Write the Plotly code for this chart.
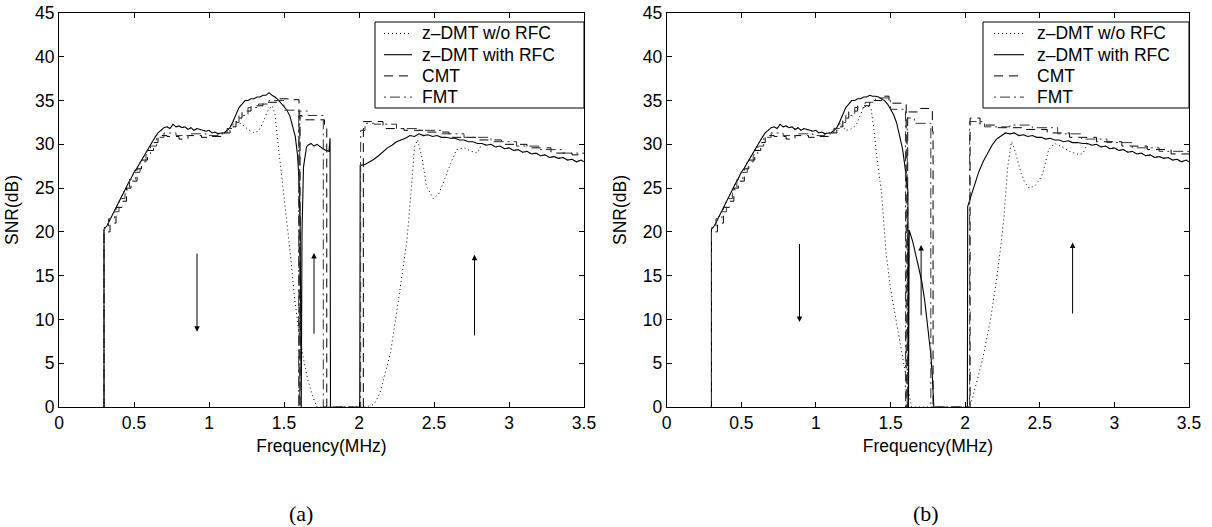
import plotly.graph_objects as go

W, H = 1212, 527

# ---------------- data ----------------
# common rising part shared by the z-DMT curves (MHz, dB)
COMMON_F = [0.30, 0.30, 0.32, 0.34, 0.36, 0.38, 0.40, 0.42, 0.44, 0.46, 0.48, 0.50, 0.52, 0.54,
            0.56, 0.58, 0.60, 0.62, 0.64, 0.66, 0.68, 0.70, 0.72, 0.74, 0.76, 0.78, 0.80, 0.82,
            0.84, 0.86, 0.88, 0.90, 0.92, 0.94, 0.96, 0.98, 1.00, 1.02, 1.04, 1.06, 1.08, 1.10,
            1.12, 1.14, 1.16]
COMMON_V = [0.0, 20.3, 20.7, 21.4, 22.1, 22.8, 23.5, 24.1, 24.8, 25.5, 26.1, 26.8, 27.3, 27.9,
            28.5, 29.0, 29.6, 30.2, 30.8, 31.3, 31.6, 31.9, 32.0, 31.8, 32.3, 32.0, 32.1, 31.9,
            32.0, 31.7, 31.9, 31.6, 31.8, 31.7, 31.6, 31.5, 31.6, 31.3, 31.4, 31.2, 31.3, 31.3,
            31.6, 31.9, 32.6]

# right-hand tail shared by the z-DMT curves
TAIL_F = [2.82, 2.85, 2.88, 2.91, 2.94, 2.97, 3.00, 3.03, 3.06, 3.09, 3.12, 3.15, 3.18, 3.21,
          3.24, 3.27, 3.30, 3.33, 3.36, 3.39, 3.42, 3.45, 3.48, 3.50]
TAIL_V = [30.1, 29.9, 30.0, 29.7, 29.8, 29.5, 29.6, 29.3, 29.4, 29.1, 29.2, 28.9, 29.0, 28.7,
          28.8, 28.5, 28.6, 28.4, 28.5, 28.2, 28.3, 28.0, 28.2, 28.0]

# (a) z-DMT with RFC
A_RFC_F = [1.18, 1.20, 1.22, 1.24, 1.26, 1.28, 1.30, 1.32, 1.34, 1.36, 1.38, 1.40, 1.42, 1.44,
           1.46, 1.48, 1.50, 1.52, 1.54, 1.56, 1.575, 1.59, 1.60, 1.607, 1.615, 1.62, 1.63, 1.65,
           1.66, 1.68, 1.70, 1.72, 1.74, 1.76, 1.78, 1.80, 1.807, 1.81, None,
           2.005, 2.008, 2.04, 2.07, 2.10, 2.13, 2.16, 2.19, 2.22, 2.25, 2.28, 2.31, 2.34, 2.37,
           2.40, 2.43, 2.46, 2.49, 2.52, 2.55, 2.58, 2.61, 2.64, 2.67, 2.70, 2.73, 2.76, 2.79]
A_RFC_V = [33.4, 34.2, 34.6, 35.0, 35.0, 35.2, 35.2, 35.4, 35.4, 35.6, 35.6, 35.9, 35.6, 35.4,
           35.1, 34.7, 34.4, 33.9, 33.2, 32.0, 30.9, 28.8, 26.0, 22.0, 0.0, 20.0, 27.4, 29.7,
           29.9, 30.1, 29.8, 30.0, 29.7, 29.5, 29.3, 29.2, 30.7, 0.0, None,
           0.0, 27.6, 27.7, 28.0, 28.3, 28.7, 29.2, 29.6, 29.9, 30.3, 30.5, 30.7, 31.0, 30.9,
           31.2, 31.0, 31.1, 30.9, 31.0, 30.8, 30.8, 30.7, 30.7, 30.5, 30.5, 30.3, 30.3, 30.1]

# (a) z-DMT w/o RFC
A_NO_F = [1.18, 1.22, 1.26, 1.30, 1.33, 1.36, 1.39, 1.42, 1.44, 1.46, 1.485, 1.52, 1.54, 1.57,
          1.60, 1.63, 1.66, 1.70, 1.72, 2.05, 2.10, 2.14, 2.21, 2.27, 2.32, 2.35, 2.37, 2.39,
          2.42, 2.45, 2.495, 2.53, 2.56, 2.61, 2.65, 2.70, 2.75, 2.79]
A_NO_V = [32.6, 32.3, 31.7, 31.3, 31.5, 32.5, 33.8, 34.4, 33.5, 30.1, 26.3, 21.7, 17.9, 12.5,
          8.5, 5.5, 3.0, 0.8, 0.0, 0.0, 0.3, 1.6, 6.2, 13.0, 19.1, 25.2, 29.7, 30.5,
          28.5, 25.2, 23.8, 24.3, 25.5, 27.8, 29.4, 29.6, 29.2, 29.0]

# (a) CMT (staircase)
A_CMT_F = [0.295, 0.30, 0.34, 0.38, 0.42, 0.45, 0.48, 0.52, 0.55, 0.59, 0.63, 0.66, 0.72, 0.80,
           0.86, 0.95, 1.02, 1.10, 1.14, 1.18, 1.22, 1.28, 1.36, 1.45, 1.54, 1.60, 1.607, 1.62,
           1.77, 1.785, 2.029, 2.16, 2.30, 2.45, 2.60, 2.78, 2.95, 3.12, 3.28, 3.42, 3.50]
A_CMT_V = [0.0, 20.0, 21.0, 22.8, 23.5, 25.0, 25.8, 27.2, 28.2, 29.3, 30.2, 31.0, 30.9, 30.6,
           31.0, 30.8, 30.9, 31.3, 32.0, 33.0, 33.8, 34.4, 34.8, 35.2, 35.1, 0.0, 33.3, 32.8,
           32.0, 0.0, 32.6, 31.8, 31.6, 31.4, 30.8, 30.5, 30.0, 29.6, 29.0, 28.8, 28.8]

# (a) FMT (staircase)
A_FMT_F = [0.295, 0.30, 0.33, 0.37, 0.40, 0.44, 0.47, 0.51, 0.54, 0.58, 0.61, 0.65, 0.70, 0.78,
           0.88, 0.98, 1.06, 1.12, 1.16, 1.20, 1.26, 1.33, 1.40, 1.50, 1.598, 1.605, 1.66, 1.762,
           2.011, 2.04, 2.10, 2.25, 2.40, 2.55, 2.70, 2.88, 3.05, 3.20, 3.36, 3.50]
A_FMT_V = [0.0, 20.5, 21.5, 22.3, 23.8, 24.8, 26.0, 26.8, 28.0, 28.8, 29.8, 30.8, 31.3, 31.0,
           31.2, 31.0, 31.2, 31.8, 32.5, 33.3, 34.2, 34.6, 35.0, 33.9, 0.0, 33.8, 33.3, 0.0,
           31.6, 32.4, 32.3, 31.8, 31.6, 31.2, 30.8, 30.3, 29.8, 29.4, 29.0, 28.9]

# (b) z-DMT with RFC
B_RFC_F = [1.18, 1.20, 1.22, 1.24, 1.26, 1.28, 1.30, 1.32, 1.34, 1.36, 1.38, 1.40, 1.42, 1.44,
           1.46, 1.48, 1.50, 1.52, 1.54, 1.56, 1.58, 1.594, 1.605, 1.616, 1.62, 1.625, 1.65, 1.67,
           1.69, 1.71, 1.73, 1.75, 1.77, 1.78, 1.79, None,
           2.015, 2.017, 2.03, 2.06, 2.09, 2.12, 2.15, 2.18, 2.21, 2.24, 2.27, 2.30, 2.33, 2.36,
           2.39, 2.42, 2.45, 2.48, 2.51, 2.54, 2.57, 2.60, 2.63, 2.66, 2.69, 2.72, 2.75, 2.79]
B_RFC_V = [33.4, 34.2, 34.6, 35.0, 35.0, 35.2, 35.2, 35.4, 35.4, 35.6, 35.5, 35.5, 35.4, 35.2,
           35.0, 34.6, 34.0, 33.4, 32.5, 30.9, 29.5, 27.8, 26.2, 24.8, 0.0, 20.2, 18.8, 17.3,
           16.1, 14.3, 12.0, 9.3, 6.0, 3.5, 0.0, None,
           0.0, 22.9, 23.6, 25.2, 26.8, 28.0, 29.0, 29.9, 30.6, 31.0, 31.3, 31.2, 31.3, 31.0,
           31.1, 30.9, 31.0, 30.8, 30.8, 30.6, 30.7, 30.5, 30.5, 30.3, 30.4, 30.2, 30.2, 30.1]

# (b) z-DMT w/o RFC
B_NO_F = [1.18, 1.20, 1.23, 1.27, 1.30, 1.32, 1.35, 1.37, 1.39, 1.405, 1.44, 1.47, 1.50, 1.53,
          1.56, 1.59, 1.62, 1.64, 2.02, 2.04, 2.08, 2.12, 2.17, 2.21, 2.24, 2.26, 2.285, 2.31,
          2.33, 2.355, 2.375, 2.40, 2.43, 2.47, 2.50, 2.52, 2.56, 2.60, 2.65, 2.70, 2.765, 2.79]
B_NO_V = [32.0, 31.6, 31.7, 32.2, 33.5, 34.3, 34.4, 34.0, 31.5, 29.0, 24.4, 17.6, 13.5, 10.5,
          8.0, 4.5, 1.5, 0.0, 0.0, 0.5, 3.0, 5.7, 10.0, 14.5, 18.5, 21.7, 27.4, 30.3,
          29.5, 28.0, 26.7, 25.6, 25.0, 25.3, 26.0, 26.7, 29.4, 30.1, 29.7, 29.2, 28.8, 29.0]

# (b) CMT (staircase)
B_CMT_F = [0.295, 0.30, 0.34, 0.38, 0.42, 0.45, 0.48, 0.52, 0.55, 0.59, 0.63, 0.66, 0.72, 0.80,
           0.86, 0.95, 1.02, 1.10, 1.14, 1.18, 1.22, 1.28, 1.36, 1.44, 1.49, 1.605, 1.615, 1.70,
           1.78, 1.785, 2.033, 2.10, 2.22, 2.40, 2.55, 2.70, 2.88, 3.05, 3.22, 3.38, 3.50]
B_CMT_V = [0.0, 20.0, 21.0, 22.8, 23.5, 25.0, 25.8, 27.2, 28.2, 29.3, 30.2, 31.0, 30.9, 30.6,
           31.0, 30.8, 30.9, 31.3, 32.0, 33.0, 33.8, 34.4, 35.0, 35.5, 34.7, 0.0, 33.7, 34.1,
           31.5, 0.0, 33.0, 32.2, 31.9, 31.7, 31.3, 30.8, 30.3, 29.8, 29.4, 28.9, 28.9]

# (b) FMT (staircase)
B_FMT_F = [0.295, 0.30, 0.33, 0.37, 0.40, 0.44, 0.47, 0.51, 0.54, 0.58, 0.61, 0.65, 0.70, 0.78,
           0.88, 0.98, 1.06, 1.12, 1.16, 1.20, 1.26, 1.33, 1.40, 1.50, 1.60, 1.612, 1.66,
           1.77, 2.03, 2.13, 2.30, 2.45, 2.62, 2.78, 2.95, 3.12, 3.30, 3.50]
B_FMT_V = [0.0, 20.5, 21.5, 22.3, 23.8, 24.8, 26.0, 26.8, 28.0, 28.8, 29.8, 30.8, 31.3, 31.0,
           31.2, 31.0, 31.2, 31.8, 32.5, 33.3, 34.2, 34.8, 35.3, 34.0, 0.0, 33.0, 32.4,
           0.0, 32.6, 32.0, 32.2, 31.9, 31.2, 30.6, 30.2, 29.6, 29.2, 29.0]

# arrows: (x, y_tail, y_head)
A_ARROWS = [(0.92, 17.7, 8.6), (1.70, 8.2, 17.6), (2.77, 8.0, 17.4)]
B_ARROWS = [(0.89, 18.8, 9.7), (1.705, 10.3, 18.5), (2.72, 10.5, 18.8)]

X_TICKS = [0, 0.5, 1, 1.5, 2, 2.5, 3, 3.5]
X_TICK_TEXT = ["0", "0.5", "1", "1.5", "2", "2.5", "3", "3.5"]
Y_TICKS = [0, 5, 10, 15, 20, 25, 30, 35, 40, 45]

NAMES = ["z\u2013DMT w/o RFC", "z\u2013DMT with RFC", "CMT", "FMT"]
SUB_LABELS = ["(a)", "(b)"]

# ---------------- styling ----------------
FONT = "Liberation Sans, Arial, sans-serif"
FS = 17.5
STYLES = [dict(color="black", width=1, dash="1px,3px"),
          dict(color="black", width=1.1),
          dict(color="black", width=1, dash="9px,6px"),
          dict(color="#333", width=1, dash="2px,4px,10px,4px")]

# plot area in page pixels: x 59..1189, y 13..407
AX_L, AX_R, AX_T, AX_B = 59, 1189, 13, 407
px = lambda v: (v - AX_L) / (AX_R - AX_L)
py = lambda v: (AX_B - v) / (AX_B - AX_T)

fig = go.Figure()


def add_panel(xa, ya, no_f, no_v, rfc_f, rfc_v, cmt_f, cmt_v, fmt_f, fmt_v):
    series = [(COMMON_F + no_f + TAIL_F, COMMON_V + no_v + TAIL_V, None),
              (COMMON_F + rfc_f + TAIL_F, COMMON_V + rfc_v + TAIL_V, None),
              (cmt_f, cmt_v, "hv"),
              (fmt_f, fmt_v, "hv")]
    for name, style, (xs, ys, shape) in zip(NAMES, STYLES, series):
        line = dict(style)
        if shape:
            line["shape"] = shape
        fig.add_trace(go.Scatter(x=xs, y=ys, name=name, mode="lines", line=line,
                                 xaxis=xa, yaxis=ya, showlegend=False, connectgaps=False))


add_panel("x", "y", A_NO_F, A_NO_V, A_RFC_F, A_RFC_V, A_CMT_F, A_CMT_V, A_FMT_F, A_FMT_V)
add_panel("x2", "y2", B_NO_F, B_NO_V, B_RFC_F, B_RFC_V, B_CMT_F, B_CMT_V, B_FMT_F, B_FMT_V)

axis_common = dict(showline=True, linecolor="black", linewidth=1, mirror="ticks",
                   ticks="inside", ticklen=5, tickcolor="black", showgrid=False, zeroline=False,
                   automargin=False, tickfont=dict(family=FONT, size=FS, color="black"))
title_font = dict(family=FONT, size=FS, color="black")

annotations = []
shapes = []
for (xa, ya, arrows) in [("x", "y", A_ARROWS), ("x2", "y2", B_ARROWS)]:
    for (xv, yt, yh) in arrows:
        annotations.append(dict(x=xv, y=yh, ax=xv, ay=yt, xref=xa, yref=ya, axref=xa, ayref=ya,
                                showarrow=True, arrowhead=2, arrowsize=1.1, arrowwidth=1,
                                arrowcolor="black", text=""))

for lab, cx in zip(SUB_LABELS, [300.5, 926]):
    annotations.append(dict(x=px(cx), y=py(513), xref="paper", yref="paper", showarrow=False,
                            text=lab, xanchor="center", yanchor="middle",
                            font=dict(family="Liberation Serif, serif", size=22, color="black")))

# legends: frame, line samples and labels  (frame x0, x1, sample x0, x1, text x)
LEGEND_BOXES = [(375, 584, 384, 412, 420), (983, 1189, 994, 1024, 1035)]
LEGEND_TOP, LEGEND_BOTTOM = 22, 108
ROW_Y = [33.5, 54.7, 75.9, 97.1]
for (bx0, bx1, sx0, sx1, tx) in LEGEND_BOXES:
    shapes.append(dict(type="rect", xref="paper", yref="paper", x0=px(bx0), x1=px(bx1),
                       y0=py(LEGEND_BOTTOM), y1=py(LEGEND_TOP), line=dict(color="black", width=1),
                       fillcolor="white", layer="above"))
    for name, style, ry in zip(NAMES, STYLES, ROW_Y):
        shapes.append(dict(type="line", xref="paper", yref="paper", x0=px(sx0), x1=px(sx1),
                           y0=py(ry), y1=py(ry), line=style, layer="above"))
        annotations.append(dict(x=px(tx), y=py(ry), xref="paper", yref="paper", showarrow=False,
                                text=name, xanchor="left", yanchor="middle",
                                font=dict(family=FONT, size=FS, color="black")))

x_dom_a = [px(59), px(584)]
x_dom_b = [px(666.7), px(1189)]

fig.update_layout(
    width=W, height=H,
    margin=dict(l=AX_L, r=W - AX_R, t=AX_T, b=H - AX_B, autoexpand=False),
    paper_bgcolor="white", plot_bgcolor="white", showlegend=False,
    xaxis=dict(domain=x_dom_a, range=[0, 3.5], anchor="y", tickvals=X_TICKS, ticktext=X_TICK_TEXT,
               title=dict(text="Frequency(MHz)", font=title_font, standoff=7), **axis_common),
    yaxis=dict(domain=[0, 1], range=[0, 45], anchor="x", tickvals=Y_TICKS,
               title=dict(text="SNR(dB)", font=title_font, standoff=11), **axis_common),
    xaxis2=dict(domain=x_dom_b, range=[0, 3.5], anchor="y2", tickvals=X_TICKS, ticktext=X_TICK_TEXT,
                title=dict(text="Frequency(MHz)", font=title_font, standoff=7), **axis_common),
    yaxis2=dict(domain=[0, 1], range=[0, 45], anchor="x2", tickvals=Y_TICKS,
                title=dict(text="SNR(dB)", font=title_font, standoff=11), **axis_common),
    annotations=annotations, shapes=shapes,
)

# the figure fills the whole page, so drop the browser's default body margin
fig.write_html("out.html", config={"displayModeBar": False},
               post_script="document.body.style.margin='0';document.body.style.overflow='hidden';")
